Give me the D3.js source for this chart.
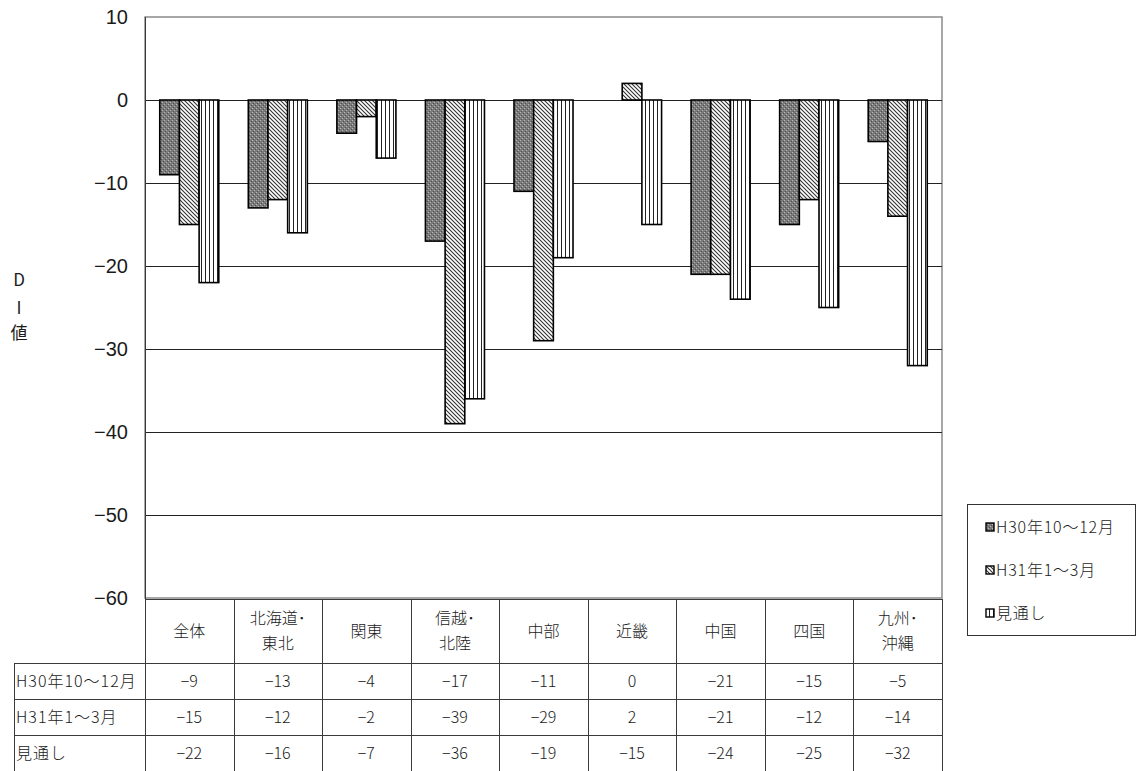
<!DOCTYPE html>
<html>
<head>
<meta charset="utf-8">
<script src="https://cdn.jsdelivr.net/npm/d3@7"></script>
<style>
  html, body { margin: 0; padding: 0; background: #fff; }
  svg { display: block; }
  text { fill: #1a1a1a; }
</style>
</head>
<body>
<svg id="chart" width="1140" height="771"></svg>
<script>
// Regions (category axis), two-line labels split by "\n"
const regions = ["全体", "北海道･\n東北", "関東", "信越･\n北陸", "中部", "近畿", "中国", "四国", "九州･\n沖縄"];
const seriesNames = ["H30年10〜12月", "H31年1〜3月", "見通し"];
const diOct2018 = [-9, -13, -4, -17, -11, 0, -21, -15, -5];
const diJan2019 = [-15, -12, -2, -39, -29, 2, -21, -12, -14];
const diOutlook = [-22, -16, -7, -36, -19, -15, -24, -25, -32];
const yTicks = [10, 0, -10, -20, -30, -40, -50, -60];

const series = [diOct2018, diJan2019, diOutlook];
const patternIds = ["pat-dither", "pat-diag", "pat-vert"];

const svg = d3.select("#chart");
const jp = "'Noto Sans CJK JP', 'Noto Sans', sans-serif";
const num = "'Liberation Sans', Arial, sans-serif";
const fmt = d => d < 0 ? "−" + Math.abs(d) : String(d);

// Fill patterns
const defs = svg.append("defs");
const p1 = defs.append("pattern").attr("id", "pat-dither").attr("patternUnits", "userSpaceOnUse")
  .attr("width", 4).attr("height", 4);
p1.append("rect").attr("width", 4).attr("height", 4).attr("fill", "#7a7a7a");
p1.append("rect").attr("x", 0).attr("y", 0).attr("width", 1).attr("height", 1).attr("fill", "#b8b8b8");
p1.append("rect").attr("x", 2).attr("y", 2).attr("width", 1).attr("height", 1).attr("fill", "#b8b8b8");
p1.append("rect").attr("x", 1).attr("y", 3).attr("width", 1).attr("height", 1).attr("fill", "#505050");
p1.append("rect").attr("x", 3).attr("y", 1).attr("width", 1).attr("height", 1).attr("fill", "#505050");

const p2 = defs.append("pattern").attr("id", "pat-diag").attr("patternUnits", "userSpaceOnUse")
  .attr("width", 4).attr("height", 4);
p2.append("rect").attr("width", 4).attr("height", 4).attr("fill", "#fff");
p2.append("path").attr("d", "M-1,-1 L5,5 M-1,3 L1,5 M3,-1 L5,1")
  .attr("stroke", "#333").attr("stroke-width", 1.1);

const p3 = defs.append("pattern").attr("id", "pat-vert").attr("patternUnits", "userSpaceOnUse")
  .attr("width", 4).attr("height", 4);
p3.append("rect").attr("width", 4).attr("height", 4).attr("fill", "#fff");
p3.append("rect").attr("x", 1).attr("width", 1).attr("height", 4).attr("fill", "#222");

// Plot geometry
const plotLeft = 145, plotRight = 942, plotTop = 17, plotBottom = 598;

const y = d3.scaleLinear().domain([-60, 10]).range([plotBottom, plotTop]);
const x0 = d3.scaleBand().domain(d3.range(regions.length)).range([plotLeft, plotRight]).padding(0);
const x1 = d3.scaleBand().domain(d3.range(series.length)).range([0, x0.bandwidth()])
  .paddingInner(0).paddingOuter(0.75);

// Plot border
svg.append("rect").attr("x", plotLeft).attr("y", plotTop).attr("width", plotRight - plotLeft)
  .attr("height", plotBottom - plotTop)
  .attr("fill", "none").attr("stroke", "#8a8a8a").attr("stroke-width", 1.5);

// Gridlines
svg.append("g").selectAll("line").data(yTicks.filter(t => t !== 10 && t !== -60)).join("line")
  .attr("x1", plotLeft).attr("x2", plotRight)
  .attr("y1", d => Math.round(y(d)) + 0.5).attr("y2", d => Math.round(y(d)) + 0.5)
  .attr("stroke", "#222").attr("stroke-width", 1);

// Y axis labels
const yAxis = d3.axisLeft(y).tickValues(yTicks).tickSize(0).tickPadding(0).tickFormat(fmt);
const gy = svg.append("g").attr("transform", `translate(${128},0)`).call(yAxis);
gy.select(".domain").remove();
gy.selectAll("text").attr("font-family", num).attr("font-size", 20).attr("fill", "#000");

// Axis title, stacked vertically in one text element
const title = svg.append("text").attr("font-family", jp).attr("font-size", 17)
  .attr("text-anchor", "middle").attr("fill", "#1a1a1a");
[["D", 286], ["I", 314], ["値", 339]].forEach(([c, yy]) =>
  title.append("tspan").attr("x", 19).attr("y", yy).text(c));

// Bars
series.forEach((vals, s) => {
  svg.append("g").selectAll("rect").data(vals).join("rect")
    .attr("x", (d, i) => x0(i) + x1(s))
    .attr("y", d => y(Math.max(0, d)))
    .attr("width", x1.bandwidth())
    .attr("height", d => Math.abs(y(d) - y(0)))
    .attr("fill", `url(#${patternIds[s]})`)
    .attr("stroke", "#000").attr("stroke-width", 1.6);
});

// Data table under the plot
const headerTop = 599, rowH = 36, headerBottom = 663;
const tableLeft = 14;
const rowTops = [headerBottom, headerBottom + rowH, headerBottom + 2 * rowH];
const tableBottom = 771;
const tg = svg.append("g").attr("stroke", "#3a3a3a").attr("stroke-width", 1);

tg.append("line").attr("x1", plotLeft).attr("x2", plotRight).attr("y1", headerTop + 0.5).attr("y2", headerTop + 0.5);
rowTops.forEach(t => tg.append("line").attr("x1", tableLeft).attr("x2", plotRight).attr("y1", t + 0.5).attr("y2", t + 0.5));
tg.append("line").attr("x1", tableLeft + 0.5).attr("x2", tableLeft + 0.5).attr("y1", headerBottom).attr("y2", tableBottom);
d3.range(regions.length + 1).forEach(i => {
  const xv = i < regions.length ? x0(i) : plotRight;
  tg.append("line").attr("x1", Math.round(xv) + 0.5).attr("x2", Math.round(xv) + 0.5)
    .attr("y1", i === 0 ? plotTop : headerTop).attr("y2", tableBottom);
});

// Category headers
regions.forEach((r, i) => {
  const lines = r.split("\n");
  const cx = x0(i) + x0.bandwidth() / 2;
  const cy = (headerTop + headerBottom) / 2;
  const lh = 25;
  lines.forEach((ln, k) => {
    svg.append("text").attr("x", cx).attr("y", cy + (k - (lines.length - 1) / 2) * lh)
      .attr("dy", "0.36em").attr("text-anchor", "middle")
      .attr("font-family", jp).attr("font-size", 16).attr("font-weight", 300).text(ln);
  });
});

// Row labels and values
series.forEach((vals, s) => {
  const cy = rowTops[s] + rowH / 2;
  svg.append("text").attr("x", tableLeft + 2).attr("y", cy).attr("dy", "0.36em")
    .attr("font-family", jp).attr("font-size", 16).attr("font-weight", 300)
    .attr("letter-spacing", 1).text(seriesNames[s]);
  svg.append("g").selectAll("text").data(vals).join("text")
    .attr("x", (d, i) => x0(i) + x0.bandwidth() / 2).attr("y", cy).attr("dy", "0.36em")
    .attr("text-anchor", "middle").attr("font-family", jp).attr("font-size", 16)
    .attr("font-weight", 300).text(fmt);
});

// Legend
const lg = svg.append("g");
lg.append("rect").attr("x", 967.5).attr("y", 504.5).attr("width", 168).attr("height", 131)
  .attr("fill", "#fff").attr("stroke", "#333").attr("stroke-width", 1);
seriesNames.forEach((n, s) => {
  const cy = 527 + s * 43;
  lg.append("rect").attr("x", 986).attr("y", cy - 4).attr("width", 8).attr("height", 8)
    .attr("fill", `url(#${patternIds[s]})`).attr("stroke", "#000").attr("stroke-width", 1.4);
  lg.append("text").attr("x", 996).attr("y", cy).attr("dy", "0.36em")
    .attr("font-family", jp).attr("font-size", 16).attr("font-weight", 300)
    .attr("letter-spacing", 0.8).text(n);
});
</script>
</body>
</html>
